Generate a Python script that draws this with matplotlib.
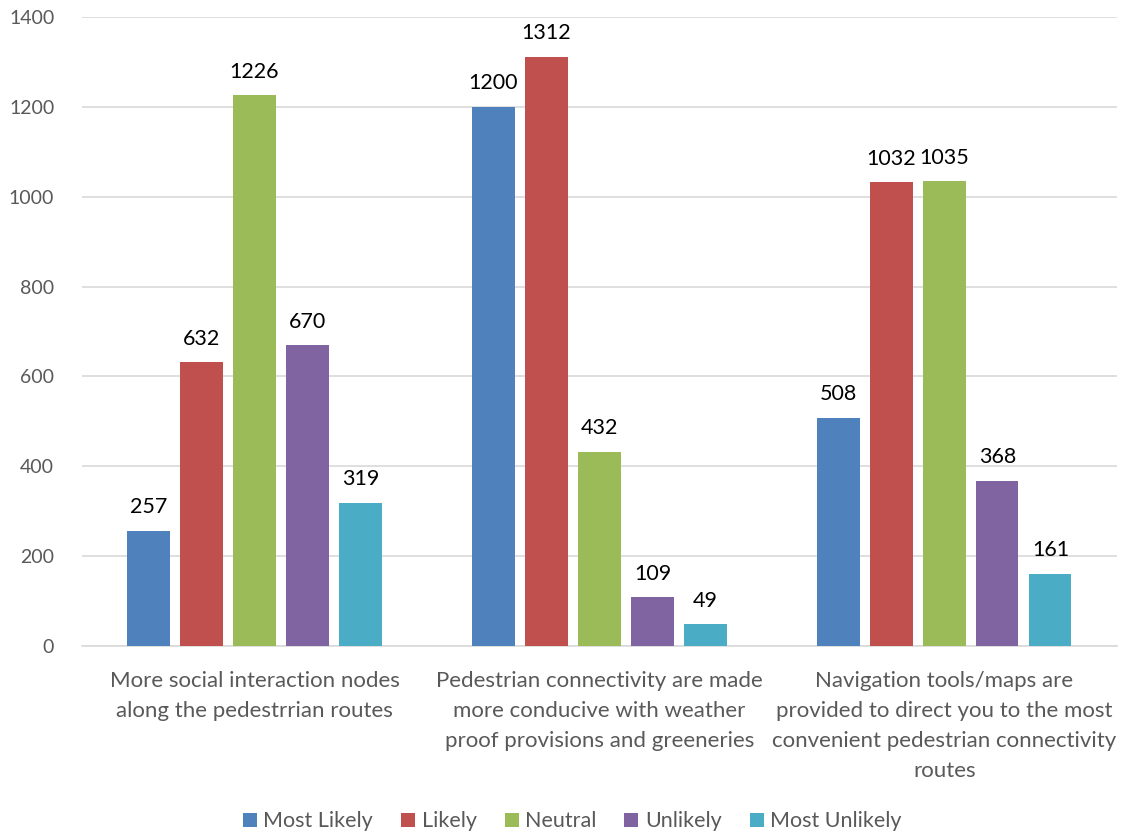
import matplotlib
matplotlib.use("Agg")
import matplotlib.pyplot as plt
import numpy as np

plt.rcParams['font.family'] = ['Lato', 'DejaVu Sans']

categories = [
    "More social interaction nodes\nalong the pedestrrian routes",
    "Pedestrian connectivity are made\nmore conducive with weather\nproof provisions and greeneries",
    "Navigation tools/maps are\nprovided to direct you to the most\nconvenient pedestrian connectivity\nroutes",
]
series_names = ["Most Likely", "Likely", "Neutral", "Unlikely", "Most Unlikely"]
most_likely = [257, 1200, 508]
likely = [632, 1312, 1032]
neutral = [1226, 432, 1035]
unlikely = [670, 109, 368]
most_unlikely = [319, 49, 161]
yticks = [0, 200, 400, 600, 800, 1000, 1200, 1400]

values = [most_likely, likely, neutral, unlikely, most_unlikely]
colors = ["#4F81BD", "#C0504D", "#9BBB59", "#8064A2", "#4BACC6"]
text_gray = "#595959"

fig = plt.figure(figsize=(11.22, 8.34), dpi=100)
ax = fig.add_axes([0.0731, 0.2254, 0.9224, 0.7542])

x = np.arange(len(categories))
width = 0.122
step = 0.1536
for i, (name, vals, c) in enumerate(zip(series_names, values, colors)):
    pos = x + (i - 2) * step
    bars = ax.bar(pos, vals, width=width, color=c, label=name, zorder=3)
    for b, v in zip(bars, vals):
        ax.text(b.get_x() + b.get_width() / 2, v + 30, str(v),
                ha='center', va='bottom', fontsize=15.5, color='black')

ax.set_xlim(-0.5, 2.5)
ax.set_ylim(0, 1400)
ax.set_yticks(yticks)
ax.yaxis.grid(True, color="#D9D9D9", linewidth=1.2, zorder=0)
ax.set_axisbelow(True)
for s in ['top', 'right', 'left']:
    ax.spines[s].set_visible(False)
ax.spines['bottom'].set_color("#D9D9D9")
ax.spines['bottom'].set_linewidth(1.2)
ax.tick_params(axis='y', length=0, labelsize=14, labelcolor=text_gray, pad=20)
ax.tick_params(axis='x', length=0, labelsize=16, labelcolor=text_gray, pad=18)
ax.set_xticks(x)
ax.set_xticklabels(categories, linespacing=1.62)
for lbl in ax.get_yticklabels():
    lbl.set_horizontalalignment('right')

leg = fig.legend(loc='lower center', bbox_to_anchor=(0.51, -0.02), ncol=5,
                 frameon=False, fontsize=15.5, handlelength=0.65, handleheight=0.65,
                 handletextpad=0.3, columnspacing=1.3, labelcolor=text_gray)

fig.savefig("out.png", dpi=100)
